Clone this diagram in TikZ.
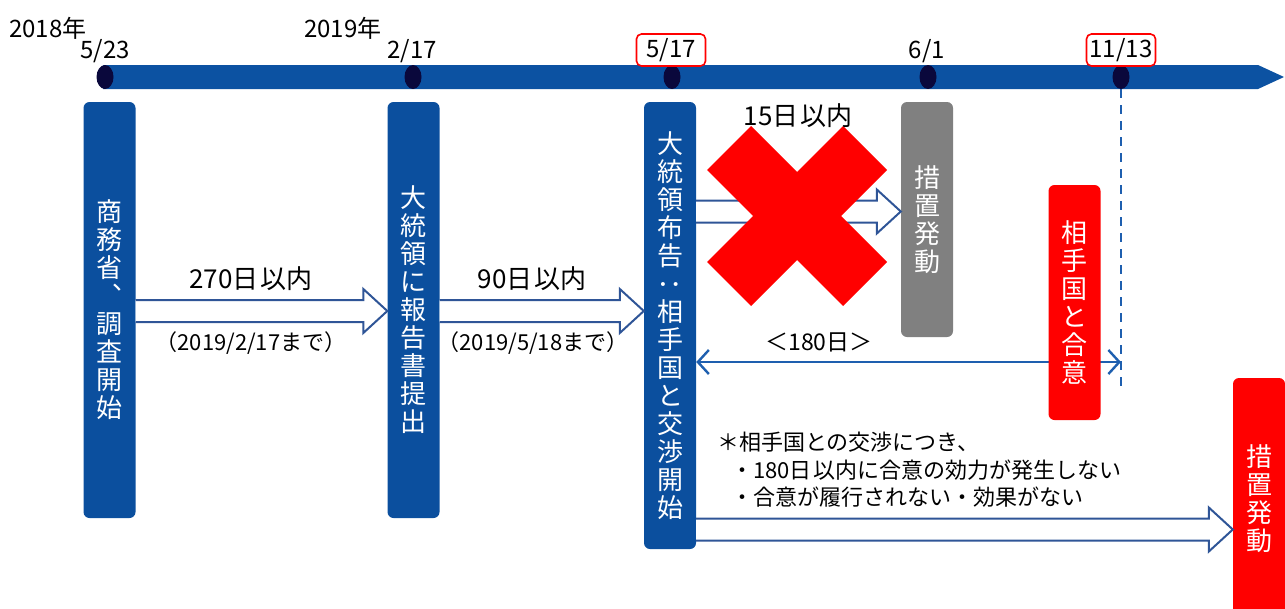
\documentclass[tikz,border=0pt]{standalone}
\usepackage{fontspec}
\setmainfont{Noto Sans CJK JP}
\usetikzlibrary{shapes.geometric,arrows.meta,calc}
\definecolor{boxblue}{RGB}{11,79,158}
\definecolor{barblue}{RGB}{12,82,162}
\definecolor{dotnavy}{RGB}{10,8,60}
\definecolor{arrblue}{RGB}{47,85,151}
\definecolor{lineblue}{RGB}{30,95,175}
\definecolor{mygrey}{RGB}{128,128,128}
\newcommand\vfont{\fontsize{26}{28}\selectfont}
\newcommand\gp{\hspace{2pt}}
\newcommand\blkarrow[3]{%
  \filldraw[blockarrow]
    ($(#1.east |- 0,#3)+(0,-11)$) --
    ($(#2.west |- 0,#3)+(-24,-11)$) --
    ($(#2.west |- 0,#3)+(-24,-22)$) --
    (#2.west |- 0,#3) --
    ($(#2.west |- 0,#3)+(-24,22)$) --
    ($(#2.west |- 0,#3)+(-24,11)$) --
    ($(#1.east |- 0,#3)+(0,11)$);}
\begin{document}
\begin{tikzpicture}[x=1pt,y=-1pt,
  vbox/.style={rounded corners=6pt, minimum width=52pt, inner sep=0pt, text=white, font=\vfont, align=center},
  bluebox/.style={vbox, fill=boxblue},
  greybox/.style={vbox, fill=mygrey},
  redbox/.style={vbox, fill=red},
  dot/.style={ellipse, fill=dotnavy, minimum width=17pt, minimum height=24pt, inner sep=0pt},
  datelbl/.style={font=\fontsize{24}{27}\selectfont, inner sep=0pt},
  datebox/.style={draw=red, line width=1.6pt, fill=white, rounded corners=5pt, minimum width=69pt, minimum height=32pt},
  daylbl/.style={font=\fontsize{26}{28}\selectfont, inner sep=0pt},
  untillbl/.style={font=\fontsize{22}{24}\selectfont, inner sep=0pt},
  spanlbl/.style={font=\fontsize{23}{26}\selectfont, inner sep=0pt},
  notelbl/.style={font=\fontsize{22}{26}\selectfont, inner sep=0pt, anchor=west},
  blockarrow/.style={fill=white, draw=arrblue, line width=2pt, line join=miter},
  dimline/.style={draw=lineblue, line width=2.4pt, {Straight Barb[length=11pt,width=24pt]}-{Straight Barb[length=11pt,width=24pt]}},
  dashline/.style={draw=lineblue, line width=2.6pt, dash pattern=on 9pt off 7pt}
]
\useasboundingbox (0,0) rectangle (1285,608);
% timeline bar
\fill[barblue] (103,65) -- (1258,65) -- (1284,77) -- (1258,89) -- (103,89) -- cycle;
\node[dot] (d1) at (105,77) {};
\node[dot] (d2) at (413,77) {};
\node[dot] (d3) at (672,77) {};
\node[dot] (d4) at (928,77) {};
\node[dot] (d5) at (1121,77) {};
% labels
\node[datelbl, anchor=west] (y1) at (9,28) {2018年};
\node[datelbl, anchor=west] (y2) at (304,28) {2019年};
\node[datelbl] (t1) at (105,51) {5/23};
\node[datelbl] (t2) at (412,51) {2/17};
\node[datelbl, datebox] (t3) at (671,50) {5/17};
\node[datelbl] (t4) at (927,51) {6/1};
\node[datelbl, datebox] (t5) at (1121,50) {11/13};
% dashed line and 180-day span
\coordinate (dashend) at (1121,387);
\coordinate (c180) at (1121,362);
\draw[dashline] (d5.south) -- (dashend);
% boxes
\node[bluebox, minimum height=416pt] (b1) at (109.5,310) {商\\務\\省\\︑\\調\\査\\開\\始};
\node[bluebox, minimum height=416pt] (b2) at (413.5,310) {大\\統\\領\\に\\報\\告\\書\\提\\出};
\node[bluebox, minimum height=447pt] (b3) at (670,325.5) {大\\統\\領\\布\\告\\\rotatebox[origin=c]{90}{：}\\相\\手\\国\\と\\交\\渉\\開\\始};
\node[greybox, minimum height=235pt] (g1) at (927,219.5) {措\\置\\発\\動};
\draw[dimline] (b3.east |- c180) -- (c180);
\node[redbox, minimum height=235pt] (r1) at (1074.5,302.5) {相\\手\\国\\と\\合\\意};
\node[redbox, minimum height=242pt] (r2) at (1259,499) {措\\置\\発\\動};
% block arrows
\blkarrow{b1}{b2}{311}
\blkarrow{b2}{b3}{311}
\blkarrow{b3}{g1}{211.5}
\blkarrow{b3}{r2}{529.5}
% red cross
\fill[red, shift={(797,216)}] (0,-44) -- (46,-90) -- (90,-46) -- (44,0) -- (90,46) -- (46,90) -- (0,44) -- (-46,90) -- (-90,46) -- (-44,0) -- (-90,-46) -- (-46,-90) -- cycle;
% texts
\node[daylbl] (a1) at (251,279) {270日\gp 以内};
\node[daylbl] (a2) at (532,279) {90日\gp 以内};
\node[daylbl] (a3) at (798,116) {15日\gp 以内};
\node[untillbl] (u1) at (251,343) {（2019/2/17まで）};
\node[untillbl] (u2) at (533,343) {（2019/5/18まで）};
\node[spanlbl] (s180) at (819,342) {＜180日＞};
\node[notelbl] (n1) at (717,442) {＊相手国との交渉につき、};
\node[notelbl] (n2) at (731,470) {・180日\gp 以内に合意の効力が発生しない};
\node[notelbl] (n3) at (731,497) {・合意が履行されない・効果がない};
\end{tikzpicture}
\end{document}
